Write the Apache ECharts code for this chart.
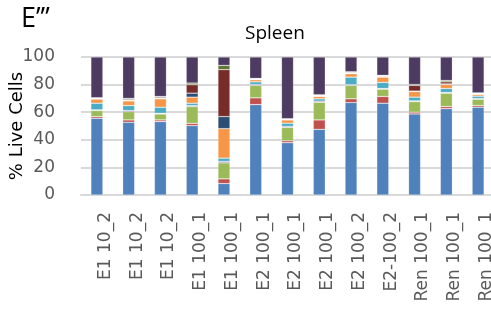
<!DOCTYPE html>
<html>
<head>
<meta charset="utf-8">
<script src="https://cdn.jsdelivr.net/npm/echarts@6/dist/echarts.min.js"></script>
<style>
  html, body { margin: 0; padding: 0; background: #fff; }
  #chart { width: 491px; height: 312px; }
</style>
</head>
<body>
<div id="chart"></div>
<script>
const categories = ["E1 10_2", "E1 10_2", "E1 10_2", "E1 100_1", "E1 100_1", "E2 100_1", "E2 100_1",
  "E2 100_1", "E2 100_2", "E2-100_2", "Ren 100_1", "Ren 100_1", "Ren 100_1"];
const yTicks = [0, 20, 40, 60, 80, 100];

// % of live cells per population, bottom to top
const blue       = [55.6, 52.7, 53.2, 50.2, 8.3, 65.5, 37.9, 47.6, 67.0, 66.5, 58.7, 62.6, 63.6];
const red        = [1.2, 1.7, 1.2, 1.7, 3.4, 4.9, 1.4, 6.8, 2.7, 4.9, 1.3, 1.5, 1.2];
const green      = [4.4, 6.0, 4.3, 12.2, 11.6, 9.0, 9.7, 12.8, 9.7, 5.3, 7.7, 9.7, 4.6];
const purple     = [0.5, 0.8, 0.5, 0.7, 1.0, 0.7, 0.8, 0.8, 0.5, 0.5, 0.5, 0.5, 0.5];
const aqua       = [4.8, 3.6, 4.4, 1.7, 2.4, 1.9, 2.2, 1.7, 5.5, 4.4, 2.7, 2.9, 1.7];
const orange     = [3.0, 3.4, 6.1, 4.4, 21.4, 1.5, 2.4, 1.7, 2.5, 3.8, 4.1, 2.9, 1.2];
const darkBlue   = [0.3, 0.4, 0.4, 2.9, 8.7, 0.3, 0.3, 0.4, 0.4, 0.4, 0.3, 0.4, 0.4];
const darkRed    = [0.4, 0.8, 0.8, 6.1, 34.0, 0.4, 0.3, 0.4, 0.5, 0.5, 4.1, 1.5, 0.4];
const olive      = [0.3, 0.6, 0.5, 1.2, 3.1, 0.3, 0.3, 0.4, 0.5, 0.4, 0.7, 1.0, 0.4];
const darkPurple = [29.5, 30.0, 28.6, 18.9, 6.1, 15.5, 44.7, 27.4, 10.7, 13.3, 19.9, 17.0, 26.0];

const layers = [
  [blue, "#4F81BD"], [red, "#C0504D"], [green, "#9BBB59"], [purple, "#8064A2"],
  [aqua, "#4BACC6"], [orange, "#F79646"], [darkBlue, "#2C4D75"], [darkRed, "#772C2A"],
  [olive, "#5F7530"], [darkPurple, "#4D3B62"]
];

const myChart = echarts.init(document.getElementById("chart"));

const option = {
  animation: false,
  textStyle: { fontFamily: "DejaVu Sans" },
  title: {
    text: "Spleen",
    left: 240,
    top: 19,
    textStyle: { fontFamily: "Open Sans", fontSize: 19, fontWeight: "normal", color: "#000" }
  },
  graphic: [
    {
      type: "text",
      left: 21,
      top: 6,
      style: { text: "E\u2019\u2019\u2019", font: "27px 'Open Sans'", fill: "#000" }
    }
  ],
  grid: { left: 81, right: -3, top: 57, bottom: 117, outerBoundsMode: "none" },
  xAxis: {
    type: "category",
    data: categories.map((c, i) => String(i)),
    axisTick: { show: false },
    axisLine: { lineStyle: { color: "#d9d9d9", width: 2 } },
    axisLabel: {
      rotate: 90,
      interval: 0,
      margin: 17,
      fontSize: 17,
      fontFamily: "DejaVu Sans",
      color: "#595959",
      verticalAlign: "top",
      formatter: (v) => categories[Number(v)]
    }
  },
  yAxis: {
    type: "value",
    min: 0,
    max: 100,
    interval: 20,
    name: "% Live Cells",
    nameLocation: "middle",
    nameGap: 55,
    nameMoveOverlap: false,
    nameTextStyle: { fontSize: 18, fontFamily: "DejaVu Sans", color: "#000" },
    axisLine: { show: false },
    axisTick: { show: false },
    axisLabel: {
      fontSize: 17,
      fontFamily: "DejaVu Sans",
      color: "#595959",
      margin: 26,
      formatter: (v) => (yTicks.includes(v) ? String(v) : "")
    },
    splitLine: { lineStyle: { color: "#d9d9d9", width: 2 } }
  },
  series: layers.map(([values, color]) => ({
    type: "bar",
    stack: "total",
    barWidth: 12,
    data: values,
    itemStyle: { color: color, borderColor: "rgba(255,255,255,0.35)", borderWidth: 0.6 }
  }))
};

myChart.setOption(option);
</script>
</body>
</html>
